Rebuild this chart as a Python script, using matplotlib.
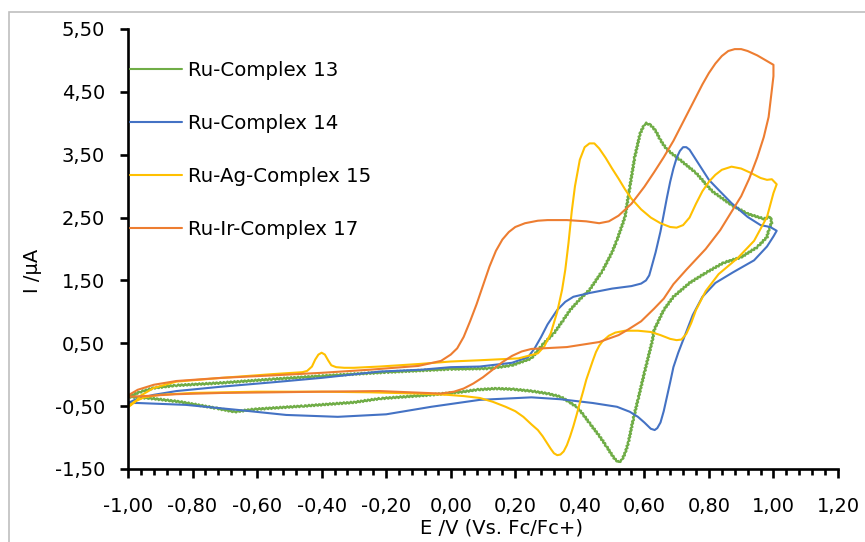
import matplotlib
matplotlib.use("Agg")
import matplotlib.pyplot as plt
from matplotlib.patches import Rectangle
from matplotlib.ticker import MultipleLocator, FuncFormatter

# Cyclic voltammograms: potential E (V vs. Fc/Fc+) and current I (µA),
# each trace is the forward sweep followed by the return sweep.
labels = ["Ru-Complex 13", "Ru-Complex 14", "Ru-Ag-Complex 15", "Ru-Ir-Complex 17"]
colors = ["#70AD47", "#4472C4", "#FFC000", "#ED7D31"]

e_13 = [-1.00, -0.96, -0.92, -0.85, -0.71, -0.55, -0.40, -0.20, 0.00, 0.12, 0.19, 0.25,
        0.285, 0.32, 0.35, 0.37, 0.40, 0.43, 0.47, 0.50, 0.515, 0.54, 0.555, 0.57, 0.587,
        0.60, 0.607, 0.62, 0.635, 0.65, 0.67, 0.71, 0.76, 0.81, 0.87, 0.92, 0.97, 0.99,
        0.995,
        0.985, 0.98, 0.95, 0.90, 0.845, 0.79, 0.74, 0.69, 0.66, 0.63, 0.625, 0.60, 0.58,
        0.565, 0.55, 0.54, 0.53, 0.52, 0.51, 0.50, 0.48, 0.46, 0.43, 0.41, 0.39, 0.36,
        0.34, 0.30, 0.25, 0.19, 0.14, 0.08, 0.04, -0.06, -0.22, -0.30, -0.46, -0.61,
        -0.67, -0.73, -0.84, -0.94, -1.00]
i_13 = [-0.35, -0.27, -0.21, -0.17, -0.13, -0.07, -0.02, 0.04, 0.09, 0.10, 0.15, 0.26,
        0.48, 0.66, 0.88, 1.03, 1.20, 1.35, 1.65, 1.95, 2.14, 2.51, 2.99, 3.46, 3.84,
        3.98, 4.00, 3.97, 3.88, 3.73, 3.58, 3.42, 3.21, 2.92, 2.70, 2.56, 2.48, 2.51,
        2.43,
        2.30, 2.19, 2.03, 1.87, 1.78, 1.62, 1.46, 1.24, 1.03, 0.71, 0.55, 0.03, -0.40,
        -0.72, -1.09, -1.25, -1.36, -1.39, -1.35, -1.28, -1.12, -0.97, -0.77, -0.63, -0.51,
        -0.41, -0.35, -0.30, -0.26, -0.23, -0.22, -0.24, -0.27, -0.32, -0.38, -0.44, -0.50,
        -0.55, -0.59, -0.53, -0.43, -0.37, -0.35]

e_14 = [-1.00, -0.97, -0.92, -0.85, -0.71, -0.55, -0.40, -0.22, -0.09, 0.00, 0.09, 0.19,
        0.24, 0.26, 0.28, 0.30, 0.33, 0.355, 0.38, 0.43, 0.50, 0.56, 0.59, 0.605, 0.615,
        0.62, 0.635, 0.65, 0.66, 0.67, 0.68, 0.69, 0.70, 0.71, 0.72, 0.73, 0.74, 0.75,
        0.765, 0.78, 0.80, 0.83, 0.87, 0.92, 0.96, 0.99, 1.01,
        1.00, 0.98, 0.94, 0.875, 0.82, 0.78, 0.75, 0.735, 0.72, 0.705, 0.69, 0.68, 0.67,
        0.66, 0.65, 0.64, 0.632, 0.62, 0.61, 0.60, 0.58, 0.555, 0.515, 0.44, 0.34, 0.25,
        0.09, -0.06, -0.20, -0.35, -0.51, -0.66, -0.82, -0.97, -1.00]
i_14 = [-0.45, -0.38, -0.32, -0.26, -0.19, -0.12, -0.05, 0.05, 0.08, 0.12, 0.13, 0.19,
        0.28, 0.42, 0.60, 0.80, 1.03, 1.16, 1.24, 1.30, 1.37, 1.41, 1.45, 1.50, 1.58,
        1.67, 1.95, 2.28, 2.55, 2.82, 3.07, 3.28, 3.45, 3.56, 3.62, 3.62, 3.58, 3.50,
        3.38, 3.26, 3.10, 2.94, 2.73, 2.51, 2.38, 2.35, 2.29,
        2.20, 2.04, 1.82, 1.63, 1.46, 1.24, 0.95, 0.75, 0.55, 0.35, 0.12, -0.12, -0.35,
        -0.58, -0.76, -0.85, -0.88, -0.86, -0.81, -0.76, -0.67, -0.59, -0.51, -0.45, -0.39,
        -0.36, -0.40, -0.51, -0.63, -0.67, -0.64, -0.56, -0.48, -0.45, -0.45]

e_15 = [-1.00, -0.98, -0.96, -0.92, -0.85, -0.71, -0.55, -0.46, -0.445, -0.43, -0.42,
        -0.41, -0.40, -0.39, -0.38, -0.37, -0.355, -0.33, -0.30, -0.22, -0.10, 0.00, 0.09,
        0.21, 0.27, 0.29, 0.31, 0.33, 0.345, 0.355, 0.365, 0.375, 0.385, 0.40, 0.415,
        0.43, 0.445, 0.46, 0.48, 0.50, 0.52, 0.54, 0.56, 0.59, 0.62, 0.65, 0.68, 0.70,
        0.72, 0.74, 0.76, 0.78, 0.80, 0.82, 0.84, 0.87, 0.90, 0.93, 0.96, 0.98, 0.995,
        1.01,
        1.00, 0.98, 0.94, 0.89, 0.83, 0.79, 0.76, 0.745, 0.73, 0.715, 0.70, 0.68, 0.65,
        0.62, 0.58, 0.54, 0.51, 0.49, 0.47, 0.46, 0.45, 0.44, 0.43, 0.42, 0.41, 0.40,
        0.39, 0.38, 0.37, 0.36, 0.35, 0.34, 0.33, 0.32, 0.31, 0.30, 0.285, 0.27, 0.25,
        0.225, 0.20, 0.17, 0.13, 0.09, 0.04, -0.01, -0.10, -0.25, -0.40, -0.60, -0.80,
        -0.90, -0.95, -0.98, -1.00]
i_15 = [-0.52, -0.44, -0.33, -0.21, -0.11, -0.05, 0.01, 0.04, 0.06, 0.13, 0.24,
        0.32, 0.35, 0.32, 0.23, 0.15, 0.12, 0.11, 0.11, 0.13, 0.17, 0.21, 0.23,
        0.26, 0.34, 0.45, 0.66, 1.00, 1.35, 1.67, 2.10, 2.60, 3.00, 3.42, 3.62,
        3.68, 3.68, 3.60, 3.45, 3.28, 3.12, 2.95, 2.80, 2.63, 2.50, 2.41, 2.35, 2.34,
        2.38, 2.50, 2.72, 2.92, 3.07, 3.18, 3.26, 3.31, 3.28, 3.21, 3.13, 3.10, 3.11,
        3.03,
        2.89, 2.51, 2.13, 1.86, 1.60, 1.33, 1.03, 0.82, 0.65, 0.56, 0.55, 0.57, 0.63,
        0.68, 0.70, 0.70, 0.67, 0.62, 0.53, 0.46, 0.36, 0.22, 0.07, -0.08, -0.27, -0.45,
        -0.64, -0.82, -0.98, -1.12, -1.22, -1.27, -1.28, -1.25, -1.18, -1.10, -0.98, -0.88,
        -0.79, -0.67, -0.58, -0.51, -0.43, -0.37, -0.34, -0.32, -0.30, -0.28, -0.27, -0.27,
        -0.29, -0.32, -0.36, -0.43, -0.50]

e_17 = [-1.00, -0.97, -0.92, -0.85, -0.71, -0.55, -0.40, -0.25, -0.10, -0.03, 0.00, 0.02,
        0.04, 0.06, 0.08, 0.10, 0.12, 0.14, 0.16, 0.18, 0.20, 0.23, 0.27, 0.30, 0.36,
        0.42, 0.46, 0.49, 0.52, 0.56, 0.60, 0.63, 0.66, 0.69, 0.72, 0.75, 0.78, 0.80,
        0.82, 0.84, 0.86, 0.88, 0.90, 0.92, 0.95, 0.98, 1.00,
        1.00, 0.995, 0.985, 0.97, 0.95, 0.925, 0.90, 0.865, 0.835, 0.79, 0.73, 0.69,
        0.66, 0.63, 0.59, 0.55, 0.52, 0.46, 0.36, 0.25, 0.22, 0.19, 0.16, 0.13, 0.10,
        0.07, 0.04, 0.01, -0.03, -0.22, -0.40, -0.55, -0.71, -0.85, -0.95, -1.00]
i_17 = [-0.33, -0.24, -0.16, -0.10, -0.05, -0.01, 0.03, 0.08, 0.14, 0.22, 0.32, 0.42,
        0.60, 0.85, 1.12, 1.42, 1.72, 1.97, 2.15, 2.27, 2.35, 2.41, 2.45, 2.46, 2.46,
        2.44, 2.41, 2.44, 2.53, 2.72, 2.99, 3.22, 3.46, 3.72, 4.02, 4.32, 4.62, 4.80,
        4.95, 5.07, 5.15, 5.18, 5.18, 5.15, 5.08, 4.99, 4.93,
        4.75, 4.53, 4.10, 3.78, 3.46, 3.12, 2.84, 2.55, 2.30, 2.00, 1.67, 1.44,
        1.21, 1.05, 0.85, 0.72, 0.63, 0.52, 0.44, 0.41, 0.37, 0.30, 0.20, 0.08, -0.04,
        -0.14, -0.22, -0.27, -0.30, -0.26, -0.27, -0.28, -0.29, -0.31, -0.34, -0.35]

series = [(e_13, i_13), (e_14, i_14), (e_15, i_15), (e_17, i_17)]

x_ticks = [-1.00, -0.80, -0.60, -0.40, -0.20, 0.00, 0.20, 0.40, 0.60, 0.80, 1.00, 1.20]
y_ticks = [-1.50, -0.50, 0.50, 1.50, 2.50, 3.50, 4.50, 5.50]

W, H = 865, 542
FS = 14
fig = plt.figure(figsize=(W / 100, H / 100), dpi=100)
fig.patch.set_facecolor("white")

# chart-area frame
fig.patches.append(Rectangle((9 / W, -0.2), 1.2, 1.2 - 12 / H, transform=fig.transFigure,
                             fill=False, edgecolor="#BFBFBF", linewidth=1.2))

ax = fig.add_axes([128 / W, 73 / H, 710 / W, 440 / H])
ax.set_facecolor("white")

lines = []
for (e, i), lab, col in zip(series, labels, colors):
    ln, = ax.plot(e, i, color=col, lw=1.5, label=lab,
                  solid_joinstyle="round", solid_capstyle="round")
    lines.append(ln)
# the Ru-Complex 13 trace carries a fine ripple
lines[0].set_linewidth(1.6)
lines[0].set_sketch_params(scale=0.9, length=1.4, randomness=1.0)

ax.set_xlim(-1.0, 1.2)
ax.set_ylim(-1.5, 5.5)
ax.set_xticks(x_ticks)
ax.set_yticks(y_ticks)
ax.xaxis.set_minor_locator(MultipleLocator(0.04))

fmt = FuncFormatter(lambda v, p: f"{v:.2f}".replace(".", ",").replace("\u2212", "-"))
ax.xaxis.set_major_formatter(fmt)
ax.yaxis.set_major_formatter(fmt)

for s in ("top", "right"):
    ax.spines[s].set_visible(False)
for s in ("left", "bottom"):
    ax.spines[s].set_linewidth(1.9)
    ax.spines[s].set_color("black")

ax.tick_params(axis="y", which="major", direction="out", length=6, width=1.9,
               labelsize=FS, pad=10.5)
ax.tick_params(axis="x", which="major", direction="out", length=6.5, width=1.9,
               labelsize=FS, pad=13.5)
ax.tick_params(axis="x", which="minor", direction="out", length=4, width=1.9)

fig.text(33 / W, 1 - 271 / H, "I /µA", rotation=90, ha="center", va="center", fontsize=FS)
fig.text(501 / W, 1 - 528 / H, "E /V (Vs. Fc/Fc+)", ha="center", va="center", fontsize=FS)

leg = ax.legend(loc="upper left", bbox_to_anchor=(130 / W, 1 - 61 / H),
                bbox_transform=fig.transFigure, frameon=False, fontsize=14.2,
                handlelength=2.64, handletextpad=0.3, labelspacing=1.72,
                borderpad=0, borderaxespad=0)
for h in leg.get_lines():
    h.set_linewidth(1.5)
    h.set_sketch_params(None)

fig.savefig("out.png", dpi=100)
